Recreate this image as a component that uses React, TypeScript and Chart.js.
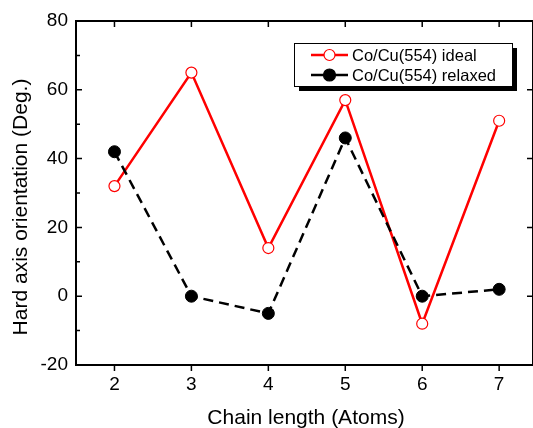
import React, { useEffect, useRef } from "react";
import { Chart, registerables } from "chart.js";

Chart.register(...registerables);

const chainLength = [2, 3, 4, 5, 6, 7];
const idealValues = [32, 65, 14, 57, -8, 51];
const relaxedValues = [42, 0, -5, 46, 0, 2];
const yMajorTicks = [-20, 0, 20, 40, 60, 80];
const yMinorTicks = [-10, 10, 30, 50, 70];
const seriesLabels = ["Co/Cu(554) ideal", "Co/Cu(554) relaxed"];
const xTitle = "Chain length (Atoms)";
const yTitle = "Hard axis orientation (Deg.)";

const FONT = 'Arial, "Liberation Sans", sans-serif';

const framePlugin = {
  id: "frameAndLegend",
  afterDraw(chart: any) {
    const { ctx, chartArea: a, scales } = chart;
    const x = scales.x;
    const y = scales.y;
    ctx.save();
    // frame
    ctx.strokeStyle = "#000";
    ctx.lineWidth = 2;
    ctx.beginPath();
    ctx.moveTo(a.left, a.bottom);
    ctx.lineTo(a.left, a.top);
    ctx.lineTo(a.right, a.top);
    ctx.lineTo(a.right, a.bottom);
    ctx.closePath();
    ctx.stroke();
    // ticks
    ctx.lineWidth = 1.5;
    ctx.beginPath();
    for (const v of chainLength) {
      const px = x.getPixelForValue(v);
      ctx.moveTo(px, a.bottom);
      ctx.lineTo(px, a.bottom + 6);
      ctx.moveTo(px, a.top);
      ctx.lineTo(px, a.top + 6);
    }
    for (const v of yMajorTicks) {
      const py = y.getPixelForValue(v);
      ctx.moveTo(a.left, py);
      ctx.lineTo(a.left + 6, py);
      ctx.moveTo(a.right, py);
      ctx.lineTo(a.right - 6, py);
    }
    for (const v of yMinorTicks) {
      const py = y.getPixelForValue(v);
      ctx.moveTo(a.left, py);
      ctx.lineTo(a.left + 4, py);
    }
    ctx.stroke();

    // axis titles
    ctx.fillStyle = "#000";
    ctx.font = `21px ${FONT}`;
    ctx.textAlign = "center";
    ctx.textBaseline = "middle";
    ctx.fillText(xTitle, 306, 418);
    ctx.save();
    ctx.translate(21, 207);
    ctx.rotate(-Math.PI / 2);
    ctx.fillText(yTitle, 0, 0);
    ctx.restore();

    // legend
    const lx = 294, ly = 43, lw = 218, lh = 43;
    ctx.fillStyle = "#000";
    ctx.fillRect(lx + 5, ly + 5, lw, lh);
    ctx.fillStyle = "#fff";
    ctx.fillRect(lx, ly, lw, lh);
    ctx.lineWidth = 1;
    ctx.strokeStyle = "#000";
    ctx.strokeRect(lx + 0.5, ly + 0.5, lw, lh);
    const rows = [
      { yy: 55, color: "#ff0000", fill: "#fff", r: 5.5 },
      { yy: 75, color: "#000", fill: "#000", r: 6 },
    ];
    rows.forEach((row, i) => {
      ctx.strokeStyle = row.color;
      ctx.lineWidth = 2.5;
      ctx.beginPath();
      ctx.moveTo(311, row.yy);
      ctx.lineTo(348, row.yy);
      ctx.stroke();
      ctx.beginPath();
      ctx.arc(329.5, row.yy, row.r, 0, Math.PI * 2);
      ctx.fillStyle = row.fill;
      ctx.fill();
      ctx.lineWidth = 1.2;
      ctx.stroke();
      ctx.fillStyle = "#000";
      ctx.font = `16.5px ${FONT}`;
      ctx.textAlign = "left";
      ctx.textBaseline = "middle";
      ctx.fillText(seriesLabels[i], 352, row.yy + 1);
    });
    ctx.restore();
  },
};

export default function App() {
  const ref = useRef<HTMLCanvasElement | null>(null);
  useEffect(() => {
    if (!ref.current) return;
    const chart = new Chart(ref.current, {
      type: "line",
      data: {
        datasets: [
          {
            label: seriesLabels[1],
            data: chainLength.map((c, i) => ({ x: c, y: relaxedValues[i] })),
            borderColor: "#000",
            backgroundColor: "#000",
            borderWidth: 2.5,
            borderDash: [10, 6],
            pointRadius: 6,
            pointBorderWidth: 1,
            pointBackgroundColor: "#000",
            pointBorderColor: "#000",
            order: 0,
          },
          {
            label: seriesLabels[0],
            data: chainLength.map((c, i) => ({ x: c, y: idealValues[i] })),
            borderColor: "#ff0000",
            backgroundColor: "#fff",
            borderWidth: 2.5,
            pointRadius: 5.5,
            pointBorderWidth: 1.2,
            pointBackgroundColor: "#fff",
            pointBorderColor: "#ff0000",
            order: 1,
          },
        ],
      },
      options: {
        animation: false,
        responsive: false,
        devicePixelRatio: 1,
        layout: { autoPadding: false, padding: { top: 21, right: 0, left: 0, bottom: 0 } },
        plugins: { legend: { display: false }, tooltip: { enabled: false } },
        scales: {
          x: {
            type: "linear",
            min: 1.5,
            max: 7.44,
            grid: { display: false, drawTicks: false },
            border: { display: false },
            afterBuildTicks: (s: any) => {
              s.ticks = chainLength.map((v) => ({ value: v }));
            },
            afterFit: (s: any) => {
              s.height = 63;
              s.paddingLeft = 0;
              s.paddingRight = 0;
            },
            ticks: {
              color: "#000",
              font: { family: FONT, size: 19 },
              padding: 8,
              maxRotation: 0,
            },
          },
          y: {
            type: "linear",
            min: -20,
            max: 80,
            grid: { display: false, drawTicks: false },
            border: { display: false },
            afterBuildTicks: (s: any) => {
              s.ticks = yMajorTicks.map((v) => ({ value: v }));
            },
            afterFit: (s: any) => {
              s.width = 76;
              s.paddingTop = 0;
              s.paddingBottom = 0;
            },
            ticks: {
              color: "#000",
              font: { family: FONT, size: 19 },
              padding: 8,
            },
          },
        },
      },
      plugins: [framePlugin],
    } as any);
    return () => chart.destroy();
  }, []);
  return (
    <div style={{ position: "absolute", left: 0, top: 0, width: 533, height: 428, background: "#fff" }}>
      <canvas ref={ref} width={533} height={428} style={{ display: "block" }} />
    </div>
  );
}
